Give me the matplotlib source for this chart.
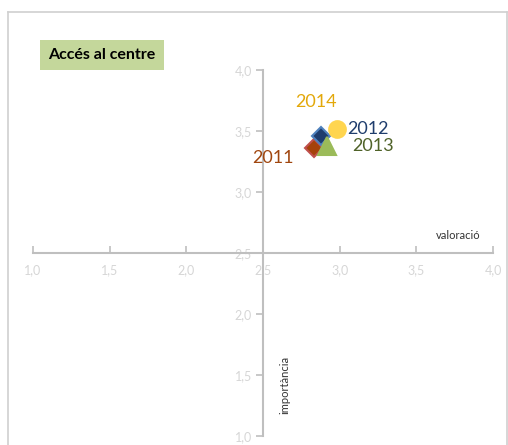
import matplotlib.pyplot as plt
from matplotlib.lines import Line2D

plt.rcParams['font.family'] = ['Lato', 'DejaVu Sans']

years = ['2011', '2012', '2013', '2014']
valoracio = [2.83, 2.88, 2.92, 2.98]
importancia = [3.36, 3.46, 3.38, 3.52]
markers = ['D', 'D', '^', 'o']
face_colors = ['#a5420a', '#1f3d6d', '#9bbb59', '#ffd54f']
edge_colors = ['#c0504d', '#4f81bd', '#9bbb59', '#ffd54f']
label_colors = ['#a0460f', '#1f3d6d', '#4f6228', '#e3a80a']
marker_sizes = [9, 9, 13, 12]
label_offsets = [(-44, -7), (19, 5), (18, 0), (-30, 19)]

ticks = [1.0, 1.5, 2.0, 2.5, 3.0, 3.5, 4.0]
tick_labels = ['1,0', '1,5', '2,0', '2,5', '3,0', '3,5', '4,0']

fig = plt.figure(figsize=(5.08, 4.45), dpi=100)

# chart frame
frame_col = '#d0d0d0'
fig.add_artist(Line2D([8/508, 8/508], [0, 1 - 12/445], color=frame_col, lw=1.2))
fig.add_artist(Line2D([8/508, 507/508], [1 - 12/445, 1 - 12/445], color=frame_col, lw=1.2))
fig.add_artist(Line2D([507/508, 507/508], [0, 1 - 12/445], color=frame_col, lw=1.2))

ax = fig.add_axes([33/508, 9/445, 460/508, 366/445])
ax.set_xlim(1.0, 4.0)
ax.set_ylim(1.0, 4.0)

for s in ['top', 'right']:
    ax.spines[s].set_visible(False)
ax.spines['left'].set_position(('data', 2.5))
ax.spines['bottom'].set_position(('data', 2.5))
for s in ['left', 'bottom']:
    ax.spines[s].set_color('#bfbfbf')
    ax.spines[s].set_linewidth(1.5)

ax.set_xticks(ticks)
ax.set_xticklabels(tick_labels)
ax.set_yticks(ticks)
ax.set_yticklabels(tick_labels)
ax.tick_params(axis='x', direction='in', length=5, width=1.2, color='#bfbfbf',
               labelcolor='#d6d6d6', labelsize=9, pad=8)
ax.tick_params(axis='y', direction='out', length=5, width=1.2, color='#bfbfbf',
               labelcolor='#d6d6d6', labelsize=9, pad=3)

for i in range(len(years)):
    ax.plot(valoracio[i], importancia[i], marker=markers[i], ms=marker_sizes[i],
            mfc=face_colors[i], mec=edge_colors[i], mew=1.5, ls='none', zorder=3 + i)
    ax.annotate(years[i], (valoracio[i], importancia[i]), xytext=label_offsets[i],
                textcoords='offset points', color=label_colors[i], fontsize=13,
                ha='left', va='center')

ax.text(3.77, 2.64, 'valoració', fontsize=8, color='#333333', ha='center', va='center')
ax.text(2.64, 1.42, 'importància', fontsize=8, color='#333333', rotation=90,
        ha='center', va='center')

fig.text(102/508, 1 - 55/445, 'Accés al centre', fontsize=11.5, fontweight='bold',
         ha='center', va='center',
         bbox=dict(boxstyle='square,pad=0.5', fc='#c4d79b', ec='none'))

fig.savefig('out.png', dpi=100)
